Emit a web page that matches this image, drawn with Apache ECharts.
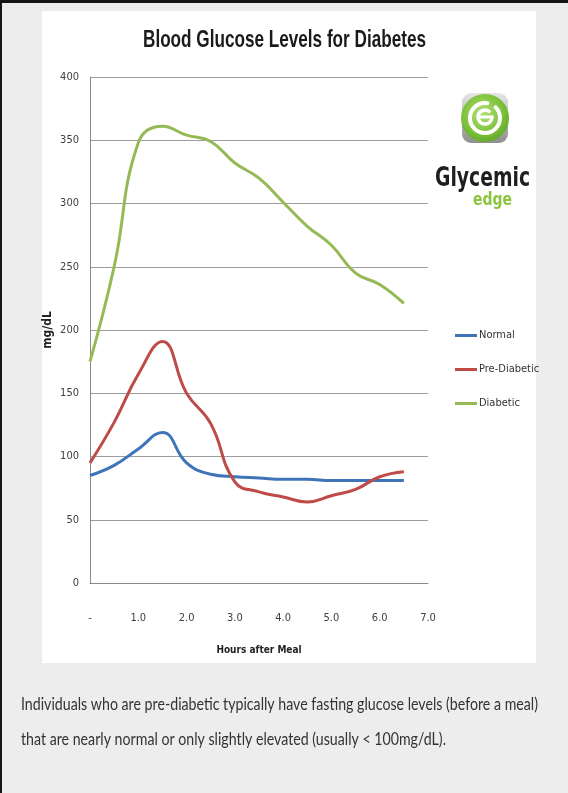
<!DOCTYPE html>
<html>
<head>
<meta charset="utf-8">
<script src="https://cdn.jsdelivr.net/npm/echarts@6/dist/echarts.min.js"></script>
<style>
  html, body { margin: 0; padding: 0; }
  #page { position: relative; width: 568px; height: 793px; background: #ededed; overflow: hidden; }
  #edgeTop { position: absolute; left: 0; top: 0; width: 568px; height: 3px; background: #151515; }
  #edgeLeft { position: absolute; left: 0; top: 0; width: 2px; height: 793px; background: #151515; }
  #card { position: absolute; left: 42px; top: 11px; width: 494px; height: 652px; background: #ffffff; }
  #chart { position: absolute; left: 0; top: 0; width: 568px; height: 793px; }
</style>
</head>
<body>
<div id="page">
  <div id="edgeTop"></div>
  <div id="edgeLeft"></div>
  <div id="card"></div>
  <div id="chart"></div>
</div>
<script>
// Hours after a meal and glucose readings (mg/dL) for each group
const hours = [0, 0.5, 1.0, 1.5, 2.0, 2.5, 3.0, 3.5, 4.0, 4.5, 5.0, 5.5, 6.0, 6.5];
const normal = [85, 93, 106, 119, 95, 86, 84, 83, 82, 82, 81, 81, 81, 81];
const preDiabetic = [95, 127, 165, 191, 150, 126, 80, 72, 68, 64, 69, 74, 84, 88];
const diabetic = [175, 250, 348, 361, 354, 349, 332, 320, 301, 282, 267, 245, 236, 221];
const seriesNames = ['Normal', 'Pre-Diabetic', 'Diabetic'];
const seriesColors = ['#3f74b8', '#be4b48', '#95ba55'];
const xTickLabels = ['-', '1.0', '2.0', '3.0', '4.0', '5.0', '6.0', '7.0'];

const titleText = 'Blood Glucose Levels for Diabetes';
const captionLines = [
  'Individuals who are pre-diabetic typically have fasting glucose levels (before a meal)',
  'that are nearly normal or only slightly elevated (usually < 100mg/dL).'
];

const narrow = "'Liberation Sans Narrow', 'DejaVu Sans Condensed', sans-serif";

// width of a string in a given font, used to squeeze text horizontally
const measureCtx = document.createElement('canvas').getContext('2d');
function textWidth(str, font) {
  measureCtx.font = font;
  return measureCtx.measureText(str).width;
}
function fitText(str, weight, size, family, targetWidth) {
  const w = textWidth(str, weight + ' ' + size + 'px ' + family);
  return targetWidth / w;
}

const titleFamily = "'Liberation Sans Narrow', 'Liberation Sans', sans-serif";
const titleScale = fitText(titleText, 'bold', 24, titleFamily, 283);
const captionFamily = "Lato, 'Noto Sans', sans-serif";
const captionScale = fitText(captionLines[0], 'normal', 17, captionFamily, 517);
const logoFamily = "'DejaVu Sans', sans-serif";
const logoScale = fitText('Glycemic', 'bold', 26, logoFamily, 95);
const edgeScale = fitText('edge', 'bold', 17, logoFamily, 39);

function label(x, y, text, size, weight, family, fill, scaleX, align) {
  return {
    type: 'text', x: x, y: y, scaleX: scaleX, originX: 0, originY: 0, z: 10,
    style: {
      text: text, fontSize: size, fontWeight: weight, fontFamily: family, fill: fill,
      align: align || 'left', textAlign: align || 'left',
      verticalAlign: 'middle', textVerticalAlign: 'middle'
    }
  };
}

const chart = echarts.init(document.getElementById('chart'), null, { renderer: 'canvas' });

const logo = [
  {
    type: 'rect', z: 5,
    shape: { x: 462, y: 93, width: 46, height: 50, r: 9 },
    style: {
      fill: new echarts.graphic.LinearGradient(0, 0, 0, 1, [
        { offset: 0, color: '#e6e6e6' }, { offset: 1, color: '#8f8f8f' }
      ])
    }
  },
  {
    type: 'circle', z: 6,
    shape: { cx: 485, cy: 118, r: 24 },
    style: {
      fill: new echarts.graphic.RadialGradient(0.45, 0.4, 0.7, [
        { offset: 0, color: '#b4e07a' }, { offset: 0.6, color: '#7cc23a' }, { offset: 1, color: '#5a9e22' }
      ])
    }
  },
  {
    type: 'arc', z: 7,
    shape: { cx: 485, cy: 118, r: 15, startAngle: -0.25 * Math.PI, endAngle: 1.55 * Math.PI, clockwise: true },
    style: { stroke: '#ffffff', lineWidth: 4, fill: null, lineCap: 'round' }
  },
  {
    type: 'arc', z: 7,
    shape: { cx: 485, cy: 117, r: 7, startAngle: 0, endAngle: 1.7 * Math.PI, clockwise: true },
    style: { stroke: '#ffffff', lineWidth: 3.5, fill: null, lineCap: 'round' }
  },
  {
    type: 'line', z: 7,
    shape: { x1: 479, y1: 117, x2: 492, y2: 117 },
    style: { stroke: '#ffffff', lineWidth: 3, lineCap: 'round' }
  },
  label(435, 179, 'Glycemic', 26, 'bold', logoFamily, '#1e1e1e', logoScale),
  label(473, 201, 'edge', 17, 'bold', logoFamily, '#8cc63f', edgeScale)
];

const option = {
  animation: false,
  grid: { left: 90, right: 140, top: 77, bottom: 210 },
  legend: {
    orient: 'vertical',
    left: 450,
    top: 325,
    icon: 'rect',
    itemWidth: 22,
    itemHeight: 3,
    itemGap: 23,
    data: seriesNames,
    textStyle: { fontSize: 11, fontFamily: narrow, color: '#333333', padding: [0, 0, 0, -3] }
  },
  xAxis: {
    type: 'value',
    min: 0,
    max: 7,
    interval: 1,
    axisLine: { show: true, lineStyle: { color: '#8a8a8a', width: 1 } },
    axisTick: { show: false },
    splitLine: { show: false },
    axisLabel: {
      margin: 30, fontSize: 11, fontFamily: narrow, color: '#404040',
      formatter: function (v) { return xTickLabels[Math.round(v)]; }
    },
    name: 'Hours after Meal',
    nameLocation: 'middle',
    nameGap: 62,
    nameMoveOverlap: false,
    nameTextStyle: { fontSize: 10, fontWeight: 'bold', fontFamily: narrow, color: '#222222' }
  },
  yAxis: {
    type: 'value',
    min: 0,
    max: 400,
    interval: 50,
    axisLine: { show: true, lineStyle: { color: '#8a8a8a', width: 1 } },
    axisTick: { show: false },
    splitLine: { show: true, lineStyle: { color: '#9d9d9d', width: 1 } },
    axisLabel: { margin: 11, fontSize: 11, fontFamily: narrow, color: '#404040' },
    name: 'mg/dL',
    nameLocation: 'middle',
    nameGap: 36,
    nameMoveOverlap: false,
    nameTextStyle: { fontSize: 12, fontWeight: 'bold', fontFamily: narrow, color: '#222222' }
  },
  series: [normal, preDiabetic, diabetic].map(function (vals, k) {
    return {
      name: seriesNames[k],
      type: 'line',
      smooth: 0.45,
      showSymbol: false,
      symbol: 'none',
      color: seriesColors[k],
      lineStyle: { width: 3, color: seriesColors[k] },
      data: hours.map(function (h, i) { return [h, vals[i]]; })
    };
  }),
  graphic: [
    label(143, 40, titleText, 24, 'bold', titleFamily, '#1a1a1a', titleScale),
    label(21, 705, captionLines[0], 17, 'normal', captionFamily, '#333333', captionScale),
    label(21, 740, captionLines[1], 17, 'normal', captionFamily, '#333333', captionScale)
  ].concat(logo)
};

chart.setOption(option);
</script>
</body>
</html>
